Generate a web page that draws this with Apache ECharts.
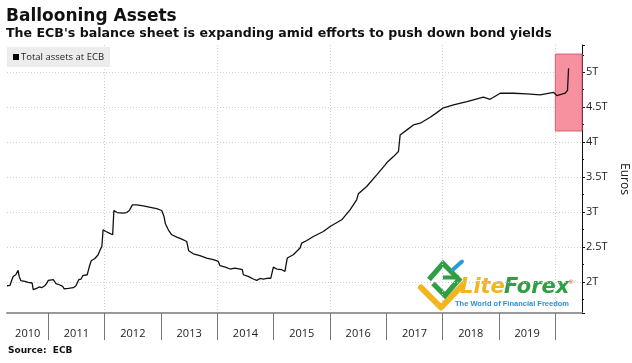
<!DOCTYPE html>
<html>
<head>
<meta charset="utf-8">
<script src="https://cdn.jsdelivr.net/npm/echarts@6/dist/echarts.min.js"></script>
<style>
html,body{margin:0;padding:0;background:#fff;}
#chart{width:632px;height:363px;}
</style>
</head>
<body>
<div id="chart"></div>
<script>
// ---- data ----
const dates = [
'2010-04-08','2010-04-27','2010-05-10','2010-05-18','2010-06-04','2010-06-19','2010-06-26','2010-07-07',
'2010-08-02','2010-08-23','2010-09-18','2010-09-25','2010-10-17','2010-11-03','2010-11-18','2010-12-09',
'2010-12-20','2011-01-01','2011-01-11','2011-02-02','2011-02-20','2011-03-13','2011-04-04','2011-04-13',
'2011-05-11','2011-06-12','2011-06-29','2011-07-17','2011-08-01','2011-08-12','2011-09-10','2011-09-23',
'2011-10-06','2011-10-30','2011-11-20','2011-12-01','2011-12-14','2011-12-22','2012-01-09','2012-01-31',
'2012-02-22','2012-03-01','2012-03-22','2012-04-27','2012-05-23','2012-06-09','2012-06-29','2012-07-27',
'2012-09-08','2012-09-30','2012-12-03','2013-01-05','2013-01-20','2013-01-29','2013-02-17','2013-03-11',
'2013-04-13','2013-05-15','2013-06-16','2013-06-29','2013-07-29','2013-09-10','2013-10-23','2013-12-06',
'2014-01-07','2014-01-18','2014-02-21','2014-03-24','2014-04-25','2014-05-06','2014-05-28','2014-06-12',
'2014-06-18','2014-07-20','2014-08-22','2014-09-13','2014-10-05','2014-10-26','2014-11-27','2014-12-13',
'2014-12-30','2015-01-21','2015-02-23','2015-03-15','2015-03-30','2015-05-08','2015-06-21','2015-07-02',
'2015-08-04','2015-09-15','2015-11-19','2016-01-02','2016-03-17','2016-05-10','2016-06-22','2016-07-03',
'2016-08-26','2016-10-30','2016-12-24','2017-01-04','2017-02-16','2017-03-20','2017-03-31','2017-05-14',
'2017-06-25','2017-08-08','2017-10-12','2017-11-24','2018-01-01','2018-03-12','2018-06-07','2018-09-22',
'2018-11-04','2019-01-09','2019-04-05','2019-06-30','2019-09-25','2019-10-06','2019-12-20','2020-01-11',
'2020-03-05','2020-03-20','2020-03-27'
];
const totalAssets = [
1.947,1.951,2.033,2.08,2.104,2.166,2.08,2.019,
2.009,1.994,1.986,1.89,1.909,1.929,1.919,1.947,
1.976,2.023,2.004,2.033,1.976,1.961,1.937,1.904,
1.909,1.919,1.947,2.033,2.043,2.09,2.104,2.214,
2.304,2.337,2.39,2.451,2.509,2.747,2.723,2.70,
2.676,3.023,2.994,2.986,2.994,3.023,3.104,3.104,
3.09,3.08,3.051,3.023,2.937,2.833,2.747,2.676,
2.643,2.614,2.58,2.447,2.404,2.376,2.343,2.319,
2.294,2.233,2.214,2.186,2.20,2.214,2.186,2.176,
2.104,2.08,2.043,2.023,2.051,2.043,2.057,2.051,
2.214,2.186,2.176,2.151,2.343,2.39,2.486,2.557,
2.594,2.651,2.723,2.794,2.89,3.033,3.176,3.261,
3.366,3.533,3.676,3.709,3.794,3.866,4.104,4.176,
4.247,4.271,4.357,4.423,4.486,4.533,4.58,4.643,
4.614,4.70,4.70,4.69,4.676,4.652,4.714,4.666,
4.70,4.74,5.057
];
const seriesName = 'Total assets at ECB';
const yearTicks = ['2011-01-01','2012-01-01','2013-01-01','2014-01-01','2015-01-01','2016-01-01','2017-01-01','2018-01-01','2019-01-01','2020-01-01'];
const gridYears = ['2012-01-01','2014-01-01','2016-01-01','2018-01-01','2020-01-01'];
const yearLabelPos = ['2010-08-20','2011-07-02','2012-07-02','2013-07-02','2014-07-02','2015-07-02','2016-07-02','2017-07-02','2018-07-02','2019-07-02'];
const xMin = '2010-04-08', xMax = '2020-06-22';
const highlight = {from:'2020-01-01', to:xMax, low:4.16, high:5.26};

const t = function(d){ return Date.parse(d + 'T00:00:00Z'); };
const chart = echarts.init(document.getElementById('chart'));
const font = 'Open Sans';
chart.setOption({
  animation:false,
  backgroundColor:'#fff',
  title:[
    {text:'Ballooning Assets', left:6, top:8, padding:0, textStyle:{fontFamily:'DejaVu Sans', fontWeight:'bold', fontSize:17, color:'#111'}},
    {text:"The ECB's balance sheet is expanding amid efforts to push down bond yields", left:6, top:27, padding:0, textStyle:{fontFamily:'DejaVu Sans', fontWeight:'bold', fontSize:12.6, color:'#111'}},
    {text:'Source:  ECB', left:8, top:346, padding:0, textStyle:{fontFamily:'DejaVu Sans', fontWeight:'bold', fontSize:9, color:'#111'}}
  ],
  legend:{
    left:7, top:47, padding:[5,6,5,6], backgroundColor:'#ececec',
    icon:'rect', itemWidth:6, itemHeight:6,
    textStyle:{fontFamily:font, fontSize:9.5, color:'#222', padding:[0,0,0,-3]},
    data:[{name:seriesName, itemStyle:{color:'#000'}}]
  },
  grid:{left:7, right:50, top:45, bottom:50, containLabel:false, outerBoundsMode:'none'},
  xAxis:[
    {type:'value', min:t(xMin), max:t(xMax),
     axisLine:{show:true, lineStyle:{color:'#999', width:2}},
     axisTick:{show:true, customValues:yearTicks.map(t), length:27, lineStyle:{color:'#777', width:1}},
     axisLabel:{customValues:yearLabelPos.map(t), margin:15, fontFamily:font, fontSize:11, color:'#222',
       formatter:function(v){return String(new Date(v).getUTCFullYear());}},
     splitLine:{show:false}
    },
    {type:'value', min:t(xMin), max:t(xMax), position:'bottom',
     axisLine:{show:false}, axisTick:{show:false, customValues:gridYears.map(t)}, axisLabel:{show:false},
     splitLine:{show:true, lineStyle:{color:'#d0d0d0', type:[1,2], width:1}}
    }
  ],
  yAxis:{
    type:'value', position:'right', min:1.557, max:5.39, splitNumber:7,
    name:'Euros', nameLocation:'middle', nameRotate:-90, nameGap:19,
    nameTextStyle:{fontFamily:font, fontSize:12, color:'#222'},
    axisLine:{show:true, lineStyle:{color:'#111', width:1}},
    axisTick:{show:true, inside:false, length:3, lineStyle:{color:'#111'}},
    minorTick:{show:true, splitNumber:2, length:2, lineStyle:{color:'#111'}},
    axisLabel:{showMinLabel:false, showMaxLabel:false, margin:4, fontFamily:font, fontSize:11, color:'#222',
      formatter:function(v){return v+'T';}},
    splitLine:{show:true, showMaxLine:false, showMinLine:false, lineStyle:{color:'#d0d0d0', type:[1,2], width:1}}
  },
  series:[{
    name:seriesName, type:'line', showSymbol:false, symbol:'none',
    lineStyle:{color:'#111', width:1.3}, itemStyle:{color:'#000'},
    data:dates.map(function(d,i){return [t(d),totalAssets[i]];}),
    markArea:{silent:true,
      itemStyle:{color:'#f7909f', borderColor:'#d8606f', borderWidth:1},
      data:[[{xAxis:t(highlight.from), yAxis:highlight.high},{xAxis:t(highlight.to), yAxis:highlight.low}]]
    },
    z:5
  }],
  graphic:[
    {type:'group', left:418, top:259, children:[
      {type:'polyline', shape:{points:[[2,30],[22,50],[44,27]]}, style:{stroke:'#f2b51c', lineWidth:6, fill:null, lineCap:'round', lineJoin:'round'}},
      {type:'polyline', shape:{points:[[10,22],[24,6],[40,22],[26,38],[14,26]]}, style:{stroke:'#2f9e44', lineWidth:5, fill:null, lineJoin:'miter'}},
      {type:'line', shape:{x1:24, y1:20, x2:40, y2:20}, style:{stroke:'#2f9e44', lineWidth:4}},
      {type:'line', shape:{x1:34, y1:12, x2:43, y2:4}, style:{stroke:'#2b9be0', lineWidth:4, lineCap:'round'}}
    ]},
    {type:'text', left:460, top:277, style:{text:'Lite', fontFamily:'DejaVu Sans', fontStyle:'italic', fontWeight:'bold', fontSize:21, fill:'#f2b51c'}},
    {type:'text', left:504, top:277, style:{text:'Forex', fontFamily:'DejaVu Sans', fontStyle:'italic', fontWeight:'bold', fontSize:21, fill:'#2f9e44'}},
    {type:'text', left:568, top:279, style:{text:'®', fontFamily:'DejaVu Sans', fontSize:6, fill:'#e0403a'}},
    {type:'text', left:455, top:300, style:{text:'The World of Financial Freedom', fontFamily:'Liberation Sans', fontWeight:'bold', fontSize:7.5, fill:'#2b8fd6'}}
  ]
});
</script>
</body>
</html>
